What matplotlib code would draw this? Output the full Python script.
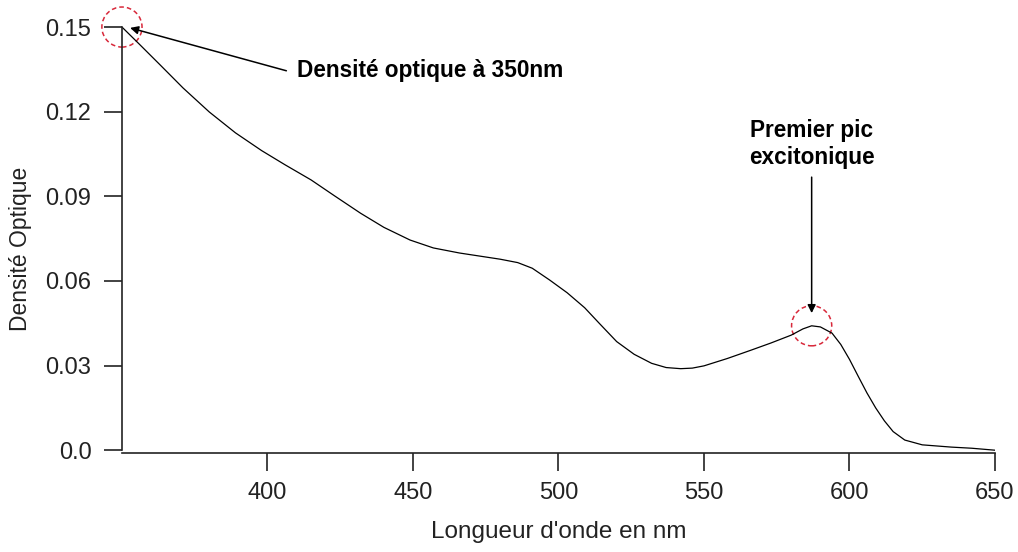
import numpy as np
import matplotlib
matplotlib.use("Agg")
import matplotlib.pyplot as plt
from matplotlib.patches import Ellipse

# absorption spectrum
wavelength = [350, 356, 363, 371, 380, 389, 398, 406, 415, 423, 432, 440, 449,
              457, 466, 473, 480, 486, 491, 497, 503, 509, 514, 520, 526, 532,
              537, 542, 546, 550, 558, 566, 573, 580, 584, 587, 590, 594, 597,
              600, 603, 606, 609, 612, 615, 619, 625, 635, 642, 650]
density = [0.150, 0.1439, 0.1367, 0.1284, 0.1199, 0.1125, 0.1062, 0.1012,
           0.0958, 0.0902, 0.0840, 0.0790, 0.0745, 0.0717, 0.0699, 0.0688,
           0.0677, 0.0665, 0.0645, 0.0603, 0.0558, 0.0505, 0.0450, 0.0385,
           0.0340, 0.0308, 0.0293, 0.0289, 0.0291, 0.0299, 0.0325, 0.0354,
           0.0380, 0.0408, 0.0430, 0.0441, 0.0437, 0.0415, 0.0375, 0.0322,
           0.0262, 0.0203, 0.0150, 0.0104, 0.0066, 0.0036, 0.0019, 0.0011,
           0.0007, 0.0]

x_ticks = [400, 450, 500, 550, 600, 650]
y_ticks = [0.0, 0.03, 0.06, 0.09, 0.12, 0.15]
y_tick_labels = ["0.0", "0.03", "0.06", "0.09", "0.12", "0.15"]

plt.rcParams['font.family'] = ['Liberation Sans', 'DejaVu Sans']

fig = plt.figure(figsize=(10.18, 5.52), dpi=100)
ax = fig.add_axes([0.1198, 0.1793, 0.8576, 0.7717])

wl = np.array(wavelength)
od = np.array(density)
ax.plot(wl, od, color='black', lw=0.9)

ax.set_xlim(350, 650)
ax.set_ylim(-0.001, 0.15)

for s in ('top', 'right'):
    ax.spines[s].set_visible(False)
for s in ('left', 'bottom'):
    ax.spines[s].set_linewidth(1.2)
    ax.spines[s].set_color('#222222')
ax.spines['left'].set_bounds(0, 0.15)

ax.set_xticks(x_ticks)
ax.set_yticks(y_ticks)
ax.set_yticklabels(y_tick_labels)
ax.tick_params(direction='out', length=13, width=1.2, color='#222222',
               labelsize=17, labelcolor='#222222')
ax.tick_params(axis='x', pad=8)
ax.tick_params(axis='y', pad=9)

ax.set_xlabel("Longueur d'onde en nm", fontsize=17.5, color='#222222')
ax.xaxis.set_label_coords(0.5, -0.16)
ax.set_ylabel("Densité Optique", fontsize=16.5, color='#222222')
ax.yaxis.set_label_coords(-0.103, 0.48)

# red dashed circles around the two annotated points
red = '#d8283a'
peak = np.argmax(np.where(wl > 550, od, -1))
for cx, cy in [(wl[0], od[0]), (wl[peak], od[peak])]:
    ax.add_patch(Ellipse((cx, cy), 13.8, 0.0142, fill=False, edgecolor=red,
                         lw=1.1, linestyle=(0, (3, 2)), clip_on=False))

arrow = dict(arrowstyle='-|>', color='black', lw=1.1, mutation_scale=12,
             shrinkA=0, shrinkB=0)
ax.annotate('', xy=(352.8, 0.1497), xytext=(406.5, 0.1345), arrowprops=arrow,
            annotation_clip=False)
ax.text(410.0, 0.1345, "Densité optique à 350nm", fontsize=16.3,
        fontweight='bold', ha='left', va='center')

ax.annotate('', xy=(wl[peak], 0.0486), xytext=(wl[peak], 0.0968),
            arrowprops=arrow)
ax.text(wl[peak], 0.1085, "Premier pic\nexcitonique", fontsize=16.3,
        fontweight='bold', ha='center', va='center', linespacing=1.2)

fig.savefig('out.png', dpi=100)
